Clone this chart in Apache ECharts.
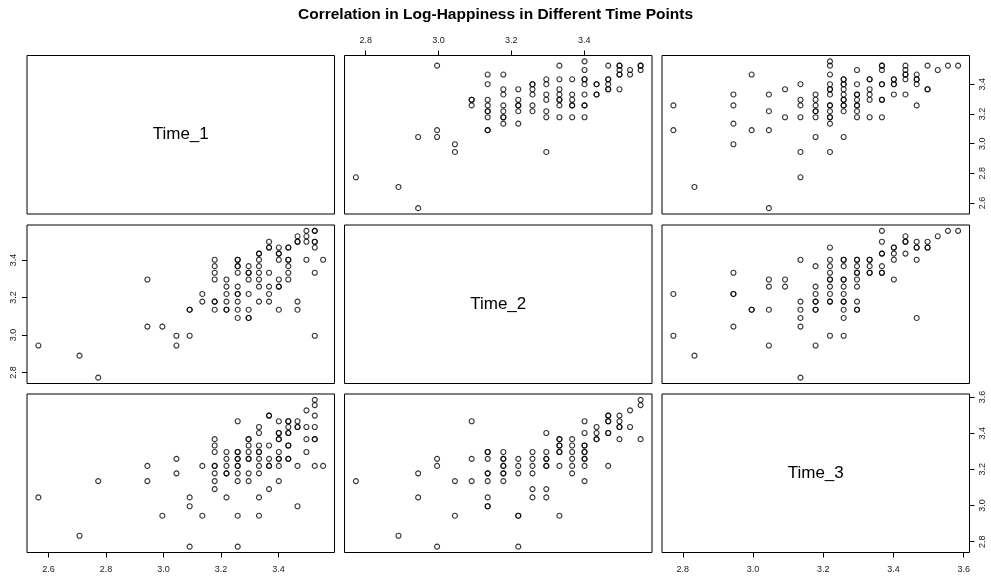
<!DOCTYPE html>
<html>
<head>
<meta charset="utf-8">
<script src="https://cdn.jsdelivr.net/npm/echarts@6/dist/echarts.min.js"></script>
<style>
  html, body { margin: 0; padding: 0; background: #fff; }
  #chart { width: 991px; height: 578px; }
</style>
</head>
<body>
<div id="chart"></div>
<script>
// ---- data: log-happiness scores, one pair per respondent ----
const chartTitle = 'Correlation in Log-Happiness in Different Time Points';
const variableNames = ['Time_1', 'Time_2', 'Time_3'];

// [Time_2, Time_1]
const time2_time1 = [
  [2.773,2.773],
  [2.890,2.708],
  [2.944,3.045],[2.944,2.565],
  [2.996,3.526],[2.996,3.091],[2.996,3.045],
  [3.045,2.996],[3.045,2.944],
  [3.091,3.296],[3.091,3.296],[3.091,3.258],
  [3.135,3.466],[3.135,3.401],[3.135,3.296],[3.135,3.258],[3.135,3.219],[3.135,3.219],[3.135,3.178],[3.135,3.091],[3.135,3.091],
  [3.178,3.466],[3.178,3.367],[3.178,3.332],[3.178,3.258],[3.178,3.219],[3.178,3.178],[3.178,3.178],[3.178,3.135],
  [3.219,3.367],[3.219,3.296],[3.219,3.258],[3.219,3.258],[3.219,3.219],[3.219,3.135],
  [3.258,3.401],[3.258,3.401],[3.258,3.367],[3.258,3.332],[3.258,3.258],[3.258,3.219],
  [3.296,3.434],[3.296,3.401],[3.296,3.332],[3.296,3.296],[3.296,3.219],[3.296,3.178],[3.296,2.944],
  [3.332,3.526],[3.332,3.434],[3.332,3.367],[3.332,3.332],[3.332,3.296],[3.332,3.296],[3.332,3.258],[3.332,3.178],
  [3.367,3.434],[3.367,3.332],[3.367,3.296],[3.367,3.258],[3.367,3.258],[3.367,3.178],
  [3.401,3.555],[3.401,3.497],[3.401,3.434],[3.401,3.434],[3.401,3.401],[3.401,3.332],[3.401,3.258],[3.401,3.258],[3.401,3.178],
  [3.434,3.401],[3.434,3.401],[3.434,3.332],[3.434,3.332],
  [3.466,3.526],[3.466,3.434],[3.466,3.434],[3.466,3.401],[3.466,3.367],[3.466,3.367],
  [3.497,3.526],[3.497,3.526],[3.497,3.497],[3.497,3.466],[3.497,3.466],[3.497,3.367],
  [3.526,3.497],[3.526,3.466],
  [3.555,3.526],[3.555,3.526],[3.555,3.497]
];

// [Time_3, Time_1]
const time3_time1 = [
  [2.773,3.258],[2.773,3.091],
  [2.833,2.708],
  [2.944,3.332],[2.944,3.258],[2.944,3.135],[2.944,2.996],
  [2.996,3.466],[2.996,3.091],
  [3.045,3.332],[3.045,3.219],[3.045,3.091],[3.045,2.565],
  [3.091,3.367],[3.091,3.178],
  [3.135,3.401],[3.135,3.296],[3.135,3.258],[3.135,3.178],[3.135,2.944],[3.135,2.773],
  [3.178,3.045],[3.178,3.178],[3.178,3.219],[3.178,3.219],[3.178,3.258],[3.178,3.296],[3.178,3.332],
  [3.219,2.944],[3.219,3.135],[3.219,3.178],[3.219,3.178],[3.219,3.219],[3.219,3.258],[3.219,3.258],
  [3.219,3.332],[3.219,3.367],[3.219,3.367],[3.219,3.401],[3.219,3.466],[3.219,3.526],[3.219,3.555],
  [3.258,3.045],[3.258,3.219],[3.258,3.258],[3.258,3.258],[3.258,3.296],[3.258,3.296],[3.258,3.332],
  [3.258,3.367],[3.258,3.401],[3.258,3.401],[3.258,3.434],[3.258,3.434],
  [3.296,3.178],[3.296,3.219],[3.296,3.258],[3.296,3.258],[3.296,3.296],[3.296,3.332],[3.296,3.332],[3.296,3.401],[3.296,3.497],
  [3.332,3.178],[3.332,3.296],[3.332,3.332],[3.332,3.367],[3.332,3.434],[3.332,3.434],
  [3.367,3.178],[3.367,3.296],[3.367,3.296],[3.367,3.401],[3.367,3.401],[3.367,3.497],[3.367,3.526],[3.367,3.526],
  [3.401,3.332],[3.401,3.401],[3.401,3.401],[3.401,3.434],[3.401,3.434],
  [3.434,3.332],[3.434,3.434],[3.434,3.466],[3.434,3.466],[3.434,3.497],[3.434,3.526],
  [3.466,3.258],[3.466,3.401],[3.466,3.434],[3.466,3.434],[3.466,3.466],
  [3.497,3.367],[3.497,3.367],[3.497,3.526],
  [3.526,3.497],
  [3.555,3.526],
  [3.584,3.526]
];

// [Time_3, Time_2]
const time3_time2 = [
  [2.773,3.219],[2.773,2.996],
  [2.833,2.890],
  [2.944,3.332],[2.944,3.219],[2.944,3.219],[2.944,3.045],
  [2.996,3.135],[2.996,3.135],
  [3.045,3.296],[3.045,3.258],[3.045,3.135],[3.045,2.944],
  [3.091,3.296],[3.091,3.258],
  [3.135,3.401],[3.135,3.178],[3.135,3.135],[3.135,3.091],[3.135,3.045],[3.135,2.773],
  [3.178,3.367],[3.178,3.258],[3.178,3.219],[3.178,3.178],[3.178,3.178],[3.178,3.135],[3.178,3.135],[3.178,2.944],
  [3.219,3.466],[3.219,3.401],[3.219,3.367],[3.219,3.332],[3.219,3.296],[3.219,3.296],[3.219,3.258],
  [3.219,3.219],[3.219,3.178],[3.219,3.178],[3.219,2.996],
  [3.258,3.401],[3.258,3.401],[3.258,3.367],[3.258,3.296],[3.258,3.296],[3.258,3.258],[3.258,3.219],
  [3.258,3.178],[3.258,3.178],[3.258,3.135],[3.258,3.091],[3.258,2.996],
  [3.296,3.401],[3.296,3.401],[3.296,3.367],[3.296,3.332],[3.296,3.332],[3.296,3.296],[3.296,3.258],
  [3.296,3.178],[3.296,3.135],[3.296,3.135],
  [3.332,3.401],[3.332,3.401],[3.332,3.367],[3.332,3.332],[3.332,3.332],
  [3.367,3.555],[3.367,3.497],[3.367,3.434],[3.367,3.434],[3.367,3.367],[3.367,3.332],[3.367,3.332],
  [3.401,3.466],[3.401,3.466],[3.401,3.434],[3.401,3.401],[3.401,3.296],
  [3.434,3.526],[3.434,3.497],[3.434,3.497],[3.434,3.434],
  [3.466,3.497],[3.466,3.466],[3.466,3.466],[3.466,3.401],[3.466,3.091],
  [3.497,3.497],[3.497,3.466],[3.497,3.466],
  [3.526,3.526],
  [3.555,3.555],
  [3.584,3.555]
];

// axis tick values for each variable
const ticksTime1 = [2.6, 2.8, 3.0, 3.2, 3.4];
const ticksTime2 = [2.8, 3.0, 3.2, 3.4];
const ticksTime3 = [2.8, 3.0, 3.2, 3.4, 3.6];

// ---- layout of the 3x3 panel matrix ----
const colLeft = [27, 344.5, 662];
const rowTop = [55.5, 225, 394];
const cellW = 307.5;
const cellH = 158.5;
const FONT = '"Liberation Sans", Arial, Helvetica, sans-serif';

const flip = pts => pts.map(p => [p[1], p[0]]);

// points for panel (row i, col j): x = variable j, y = variable i
const panelData = {
  '0-1': time2_time1, '0-2': time3_time1, '1-2': time3_time2,
  '1-0': flip(time2_time1), '2-0': flip(time3_time1), '2-1': flip(time3_time2)
};

// value ranges padded by 4% on each side
const valuesOf = [
  time2_time1.map(p => p[1]).concat(time3_time1.map(p => p[1])),
  time2_time1.map(p => p[0]).concat(time3_time2.map(p => p[1])),
  time3_time1.map(p => p[0]).concat(time3_time2.map(p => p[0]))
];
const ranges = valuesOf.map(v => {
  const lo = Math.min(...v), hi = Math.max(...v);
  const pad = (hi - lo) * 0.04;
  return [lo - pad, hi + pad];
});
const ticks = [ticksTime1, ticksTime2, ticksTime3];

const grids = [], xAxes = [], yAxes = [], series = [], graphics = [];

function makeAxis(kind, idx, v, position, show, margin) {
  return {
    type: 'value',
    gridIndex: idx,
    min: ranges[v][0],
    max: ranges[v][1],
    position: position,
    splitLine: { show: false },
    axisLine: { show: false },
    axisTick: {
      show: show, customValues: ticks[v], length: 5,
      lineStyle: { color: '#000', width: 1 }
    },
    axisLabel: {
      show: show, customValues: ticks[v],
      formatter: val => val.toFixed(1),
      fontSize: 9, color: '#1a1a1a', fontFamily: FONT,
      rotate: kind === 'y' ? 90 : 0,
      margin: margin
    }
  };
}

for (let i = 0; i < 3; i++) {
  for (let j = 0; j < 3; j++) {
    const idx = i * 3 + j;
    grids.push({
      left: colLeft[j], top: rowTop[i], width: cellW, height: cellH,
      show: true, borderColor: '#000', borderWidth: 1,
      backgroundColor: 'transparent'
    });

    let xPos = 'bottom', xShow = false, xMargin = 13;
    if (i === 0 && j === 1) { xPos = 'top'; xShow = true; xMargin = 10; }
    if (i === 2 && (j === 0 || j === 2)) { xPos = 'bottom'; xShow = true; xMargin = 13; }
    let yPos = 'left', yShow = false, yMargin = 9;
    if (j === 0 && i === 1) { yPos = 'left'; yShow = true; yMargin = 9; }
    if (j === 2 && (i === 0 || i === 2)) { yPos = 'right'; yShow = true; yMargin = 9; }

    xAxes.push(makeAxis('x', idx, j, xPos, xShow, xMargin));
    yAxes.push(makeAxis('y', idx, i, yPos, yShow, yMargin));

    if (i === j) {
      graphics.push({
        type: 'text',
        x: colLeft[j] + cellW / 2,
        y: rowTop[i] + cellH / 2,
        silent: true,
        style: {
          text: variableNames[i],
          fill: '#000',
          font: '17px ' + FONT,
          align: 'center',
          verticalAlign: 'middle'
        }
      });
    } else {
      series.push({
        type: 'scatter',
        xAxisIndex: idx,
        yAxisIndex: idx,
        data: panelData[i + '-' + j],
        symbol: 'circle',
        symbolSize: 5,
        silent: true,
        itemStyle: { color: 'rgba(0,0,0,0)', borderColor: '#000', borderWidth: 1.1 },
        emphasis: { disabled: true }
      });
    }
  }
}

const chart = echarts.init(document.getElementById('chart'), null, { renderer: 'canvas' });
chart.setOption({
  animation: false,
  backgroundColor: '#fff',
  title: {
    text: chartTitle,
    left: 'center',
    top: 2,
    textStyle: { fontSize: 15.5, fontWeight: 'bold', color: '#000', fontFamily: FONT }
  },
  grid: grids,
  xAxis: xAxes,
  yAxis: yAxes,
  series: series,
  graphic: graphics
});
</script>
</body>
</html>
